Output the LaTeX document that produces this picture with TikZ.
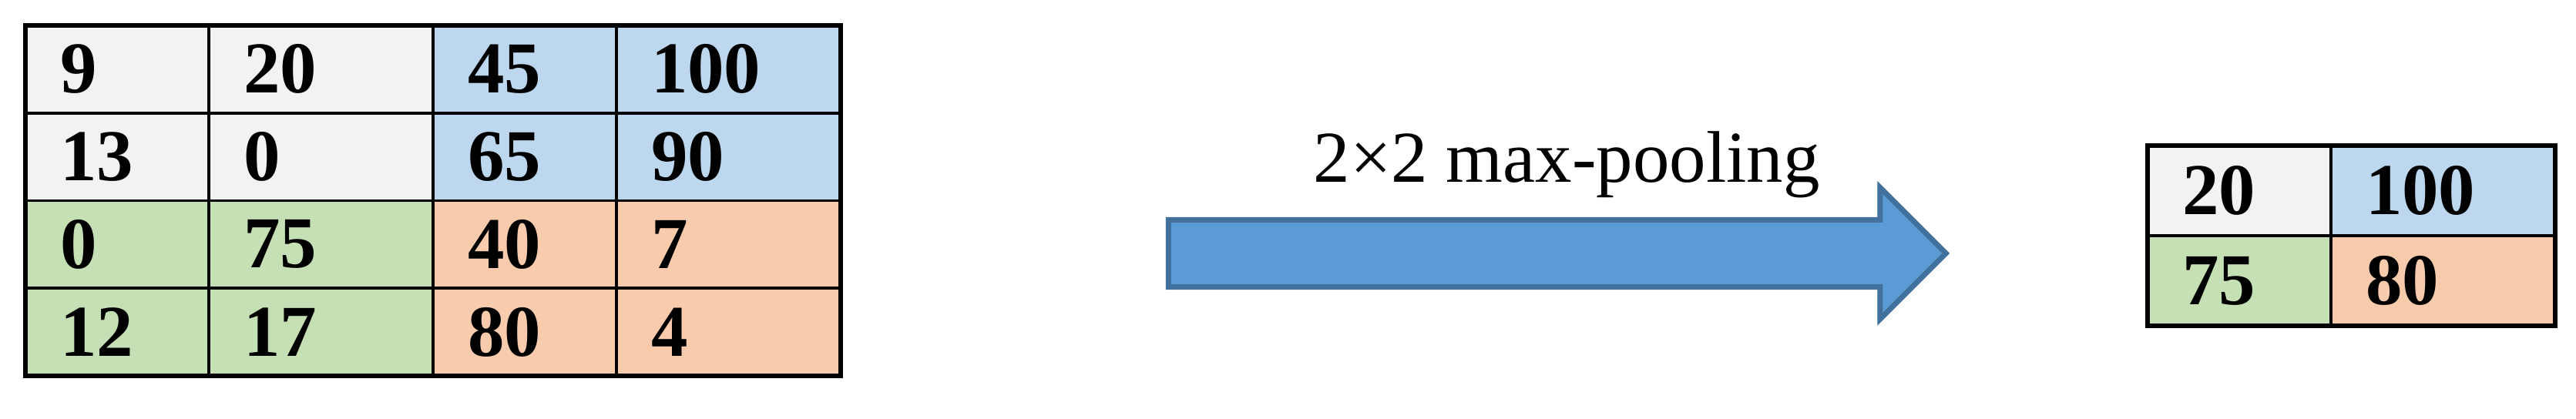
\documentclass[tikz,border=0pt]{standalone}
\usepackage{fontspec}
\setmainfont{Liberation Serif}
\usetikzlibrary{shapes.arrows}

\definecolor{cellgray}{HTML}{F2F2F2}
\definecolor{cellblue}{HTML}{BDD7EE}
\definecolor{cellgreen}{HTML}{C5E0B4}
\definecolor{cellorange}{HTML}{F8CBAD}
\definecolor{arrowfill}{HTML}{5B9BD5}
\definecolor{arrowedge}{HTML}{41719C}

\tikzstyle{cell}=[draw=black,line width=1.1pt,rectangle,inner xsep=0.45cm,inner ysep=0pt,outer sep=0pt,align=left,minimum height=1.1375cm,font=\fontsize{27}{32}\selectfont\bfseries]
\tikzstyle{narrow}=[cell,text width=1.48cm]
\tikzstyle{wide}=[cell,text width=2.01cm]
\tikzstyle{frame}=[draw=black,line width=1.6pt]
\tikzstyle{bigarrow}=[single arrow,draw=arrowedge,fill=arrowfill,line width=2pt,minimum height=10.09cm,single arrow head extend=0.42cm,inner xsep=0pt,inner ysep=0.4cm,outer sep=0pt]
\tikzstyle{optext}=[inner sep=0pt,font=\fontsize{27}{32}\selectfont]

\begin{document}
\begin{tikzpicture}
\useasboundingbox (0,0) rectangle (33.43,5.44);

% input map, row 1
\node[narrow,fill=cellgray] (in-1-1) at (1.52,4.541) {9};
\node[wide,fill=cellgray] (in-1-2) at (4.165,4.541) {20};
\node[narrow,fill=cellblue] (in-1-3) at (6.81,4.541) {45};
\node[wide,fill=cellblue] (in-1-4) at (9.455,4.541) {100};

% input map, row 2
\node[narrow,fill=cellgray] (in-2-1) at (1.52,3.404) {13};
\node[wide,fill=cellgray] (in-2-2) at (4.165,3.404) {0};
\node[narrow,fill=cellblue] (in-2-3) at (6.81,3.404) {65};
\node[wide,fill=cellblue] (in-2-4) at (9.455,3.404) {90};

% input map, row 3
\node[narrow,fill=cellgreen] (in-3-1) at (1.52,2.266) {0};
\node[wide,fill=cellgreen] (in-3-2) at (4.165,2.266) {75};
\node[narrow,fill=cellorange] (in-3-3) at (6.81,2.266) {40};
\node[wide,fill=cellorange] (in-3-4) at (9.455,2.266) {7};

% input map, row 4
\node[narrow,fill=cellgreen] (in-4-1) at (1.52,1.129) {12};
\node[wide,fill=cellgreen] (in-4-2) at (4.165,1.129) {17};
\node[narrow,fill=cellorange] (in-4-3) at (6.81,1.129) {80};
\node[wide,fill=cellorange] (in-4-4) at (9.455,1.129) {4};

\draw[frame] (in-1-1.north west) rectangle (in-4-4.south east);

% the pooling arrow
\node[bigarrow] (pool) at (19.99,2.15) {};
\node[optext,anchor=base west] (pool-text) at (17.04,3.07) {2×2 max-pooling};

% output map
\node[narrow,fill=cellgray,minimum height=1.17cm] (out-1-1) at (29.06,2.965) {20};
\node[wide,fill=cellblue,minimum height=1.17cm] (out-1-2) at (31.705,2.965) {100};
\node[narrow,fill=cellgreen,minimum height=1.17cm] (out-2-1) at (29.06,1.795) {75};
\node[wide,fill=cellorange,minimum height=1.17cm] (out-2-2) at (31.705,1.795) {80};

\draw[frame] (out-1-1.north west) rectangle (out-2-2.south east);

\end{tikzpicture}
\end{document}
